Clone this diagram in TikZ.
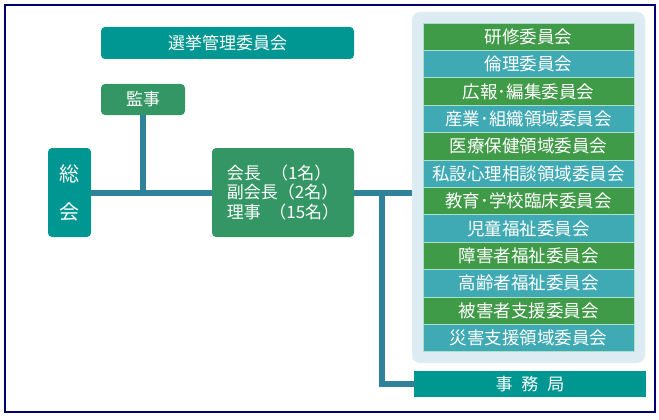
\documentclass[tikz,border=0pt]{standalone}
\usepackage{fontspec}
\setmainfont{Noto Sans CJK JP}
\usetikzlibrary{positioning}
\definecolor{framenavy}{RGB}{0,0,110}
\definecolor{boxteal}{RGB}{0,150,145}
\definecolor{boxgreen}{RGB}{52,150,100}
\definecolor{linkblue}{RGB}{48,130,155}
\definecolor{panelblue}{RGB}{221,236,242}
\definecolor{rowgreen}{RGB}{64,155,72}
\definecolor{rowteal}{RGB}{64,170,180}
\definecolor{rowedge}{RGB}{170,225,200}

\tikzset{
  orgbox/.style={rectangle, rounded corners=4pt, text=white, inner sep=0pt,
    font=\fontsize{17}{20}\selectfont},
  link/.style={draw=linkblue, line width=6pt, line join=miter},
  rowbox/.style={rectangle, draw=rowedge, line width=0.8pt, text=white, inner sep=0pt,
    minimum width=211pt, minimum height=27.4pt, font=\fontsize{17.5}{20}\selectfont}
}

\begin{document}
\begin{tikzpicture}[x=1pt, y=-1pt]
\useasboundingbox (0,0) rectangle (659,420);
%%%%% frame
\draw[framenavy, line width=2pt] (5,5) rectangle (655,412);

%%%%% left side
\node[orgbox, fill=boxteal, minimum width=253pt, minimum height=32pt] (senkyo) at (227.5,43) {選挙管理委員会};
\node[orgbox, fill=boxgreen, minimum width=84pt, minimum height=31pt] (kanji) at (143,99.5) {監事};
\node[orgbox, fill=boxteal, minimum width=43pt, minimum height=89pt, align=center,
  font=\fontsize{20}{38}\selectfont] (sokai) at (69.5,192.5) {総\\会};
\node[orgbox, fill=boxgreen, minimum width=142pt, minimum height=89pt, align=left,
  font=\fontsize{17}{19.5}\selectfont] (kaicho) at (283,192.5) {会長\hspace{0.6em}（1名）\\副会長（2名）\\理事\hspace{0.5em}（15名）};

%%%%% committees
\node[rectangle, rounded corners=8pt, fill=panelblue, minimum width=233pt, minimum height=351pt] (panel) at (528.5,187.5) {};
\foreach \name [count=\i] in {研修委員会, 倫理委員会, 広報･編集委員会, 産業･組織領域委員会,
    医療保健領域委員会, 私設心理相談領域委員会, 教育･学校臨床委員会, 児童福祉委員会,
    障害者福祉委員会, 高齢者福祉委員会, 被害者支援委員会, 災害支援領域委員会} {
  \pgfmathsetmacro{\rowy}{23 + 27.4*(\i-0.5)}
  \ifodd\i \def\rowcol{rowgreen}\else \def\rowcol{rowteal}\fi
  \node[rowbox, fill=\rowcol] (iinkai\i) at (528.5,\rowy) {\name};
}
\node[orgbox, rounded corners=0pt, fill=boxteal, minimum width=232pt, minimum height=26pt] (jimu) at (530,384) {事\hspace{9pt}務\hspace{9pt}局};

%%%%% connectors
\coordinate (branch) at (382,192.5);
\draw[link] (sokai.east) -- (kaicho.west);
\draw[link] (kanji.south) -- (kanji.south |- sokai.east);
\draw[link] (kaicho.east) -- (kaicho.east -| panel.west);
\draw[link] ([yshift=3pt]branch) |- (jimu.west);
\end{tikzpicture}
\end{document}
